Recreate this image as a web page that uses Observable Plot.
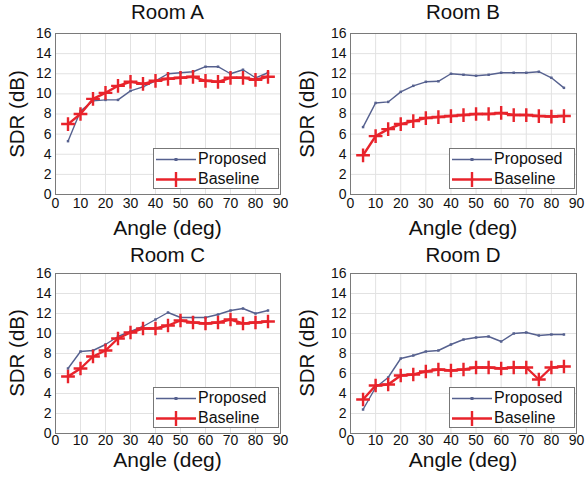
<!DOCTYPE html>
<html><head><meta charset="utf-8">
<script src="https://cdn.jsdelivr.net/npm/d3@7"></script>
<script src="https://cdn.jsdelivr.net/npm/@observablehq/plot@0.6"></script>
<style>
body{margin:0;background:#fff;font-family:"Liberation Sans",Arial,sans-serif;}
#root{position:relative;width:586px;height:484px;overflow:hidden;}
.abs{position:absolute;white-space:nowrap;color:#111;line-height:1;font-weight:normal;}
.title{font-size:20.5px;transform:translate(-50%,-50%);}
.xlab{font-size:21px;transform:translate(-50%,-50%);}
.ylab{font-size:20.5px;transform:translate(-50%,-50%) rotate(-90deg);}
.legend{position:absolute;background:#fff;border:1px solid #777;box-sizing:border-box;font-size:16px;line-height:1;color:#111;}
.legend div{height:20px;display:flex;align-items:center;}
.legend svg{margin:0 2px 0 2px;}
</style></head>
<body><div id="root"></div>
<script>
const angles = [5,10,15,20,25,30,35,40,45,50,55,60,65,70,75,80,85];
const rooms = ["Room A","Room B","Room C","Room D"];
const seriesNames = ["Proposed","Baseline"];
const xTicks = [0,10,20,30,40,50,60,70,80,90];
const yTicks = [0,2,4,6,8,10,12,14,16];
const proposedA = [5.3,8.3,9.3,9.4,9.4,10.3,10.7,11.3,12.0,12.1,12.2,12.7,12.7,12.0,12.4,11.6,12.1];
const baselineA = [7.0,8.0,9.5,10.1,10.8,11.2,11.0,11.3,11.5,11.6,11.7,11.3,11.2,11.6,11.6,11.4,11.7];
const proposedB = [6.7,9.1,9.2,10.2,10.8,11.2,11.25,12.0,11.9,11.8,11.9,12.1,12.1,12.1,12.2,11.6,10.6];
const baselineB = [3.9,5.8,6.5,7.0,7.3,7.6,7.7,7.8,7.9,8.0,8.0,8.1,7.9,7.9,7.8,7.75,7.8];
const proposedC = [6.5,8.2,8.3,8.9,9.7,10.2,10.7,11.4,12.1,11.6,11.6,11.6,11.9,12.3,12.5,12.0,12.3];
const baselineC = [5.7,6.5,7.7,8.3,9.5,10.1,10.5,10.5,10.8,11.3,11.1,11.0,11.1,11.4,11.0,11.1,11.2];
const proposedD = [2.4,4.6,5.6,7.5,7.8,8.2,8.3,8.9,9.4,9.6,9.7,9.2,10.0,10.1,9.8,9.9,9.9];
const baselineD = [3.4,4.8,4.9,5.8,5.9,6.2,6.4,6.3,6.4,6.6,6.6,6.5,6.6,6.6,5.4,6.6,6.7];

const proposed = [proposedA, proposedB, proposedC, proposedD];
const baseline = [baselineA, baselineB, baselineC, baselineD];

const propColor = "#56618f", baseColor = "#e8232b";

// layout of each panel
const layout = [
  {left:0,   top:25,  width:293, height:215, ml:55, mr:13, mt:8, mb:46, pad:4, titleY:11.6,  xlabOff:33, ylabX:17},
  {left:293, top:25,  width:293, height:215, ml:57, mr:10, mt:8, mb:46, pad:4, titleY:11.6,  xlabOff:33, ylabX:307},
  {left:0,   top:265, width:293, height:219, ml:55, mr:13, mt:8, mb:51, pad:2, titleY:254.6, xlabOff:26, ylabX:17},
  {left:293, top:265, width:293, height:219, ml:57, mr:10, mt:8, mb:51, pad:2, titleY:254.6, xlabOff:26, ylabX:307}
];

const root = document.getElementById("root");

function add(cls, text, x, y){
  const d = document.createElement("div");
  d.className = "abs " + cls; d.textContent = text;
  d.style.left = x + "px"; d.style.top = y + "px";
  root.appendChild(d); return d;
}

rooms.forEach((room, i) => {
  const L = layout[i];
  const data = angles.map((a, k) => ({angle:a, p:proposed[i][k], b:baseline[i][k]}));
  const chart = Plot.plot({
    width: L.width, height: L.height,
    marginLeft: L.ml, marginRight: L.mr, marginTop: L.mt, marginBottom: L.mb,
    style: {fontFamily: '"Liberation Sans", Arial, sans-serif', fontSize: "14px", color: "#111", background: "#fff"},
    x: {domain:[0,90], ticks: xTicks, label: null},
    y: {domain:[0,16], ticks: yTicks, label: null},
    marks: [
      Plot.gridX(xTicks, {stroke:"#e2e2e2", strokeOpacity:1}),
      Plot.gridY(yTicks, {stroke:"#e2e2e2", strokeOpacity:1}),
      Plot.frame({stroke:"#7a7a7a"}),
      Plot.axisX({ticks: xTicks, tickSize:0, tickPadding:L.pad, fontSize:14, label:null}),
      Plot.axisY({ticks: yTicks, tickSize:0, tickPadding:4, fontSize:14, label:null}),
      Plot.lineY(data, {x:"angle", y:"p", stroke:propColor, strokeWidth:1.4}),
      Plot.dot(data, {x:"angle", y:"p", symbol:"square", r:1.4, fill:propColor}),
      Plot.lineY(data, {x:"angle", y:"b", stroke:baseColor, strokeWidth:2.4}),
      Plot.dot(data, {x:"angle", y:"b", symbol:"plus", r:4.5, stroke:baseColor, strokeWidth:2.4})
    ]
  });
  chart.style.position = "absolute";
  chart.style.left = L.left + "px";
  chart.style.top = L.top + "px";
  root.appendChild(chart);

  const plotL = L.left + L.ml, plotR = L.left + L.width - L.mr;
  const plotT = L.top + L.mt, plotB = L.top + L.height - L.mb;
  add("title", room, (plotL + plotR)/2, L.titleY);
  add("xlab", "Angle (deg)", (plotL + plotR)/2, plotB + L.xlabOff);
  add("ylab", "SDR (dB)", L.ylabX, (plotT + plotB)/2);

  const lgW = 126, lgH = 41;
  const lg = document.createElement("div");
  lg.className = "legend";
  lg.style.width = lgW + "px"; lg.style.height = lgH + "px";
  lg.style.left = (plotR - 1 - lgW) + "px";
  lg.style.top = (plotB - 5 - lgH) + "px";
  lg.style.paddingTop = "0px";
  seriesNames.forEach((name, s) => {
    const row = document.createElement("div");
    const col = s === 0 ? propColor : baseColor;
    const sw = s === 0 ? 1.4 : 2.4;
    const marker = s === 0
      ? `<rect x="18.5" y="8" width="3" height="3" fill="${col}"/>`
      : `<line x1="20" y1="2" x2="20" y2="17" stroke="${col}" stroke-width="${sw}"/>`;
    row.innerHTML = `<svg width="40" height="19"><line x1="0" y1="9.5" x2="40" y2="9.5" stroke="${col}" stroke-width="${sw}"/>${marker}</svg><span>${name}</span>`;
    lg.appendChild(row);
  });
  root.appendChild(lg);
});
</script>
</body></html>
